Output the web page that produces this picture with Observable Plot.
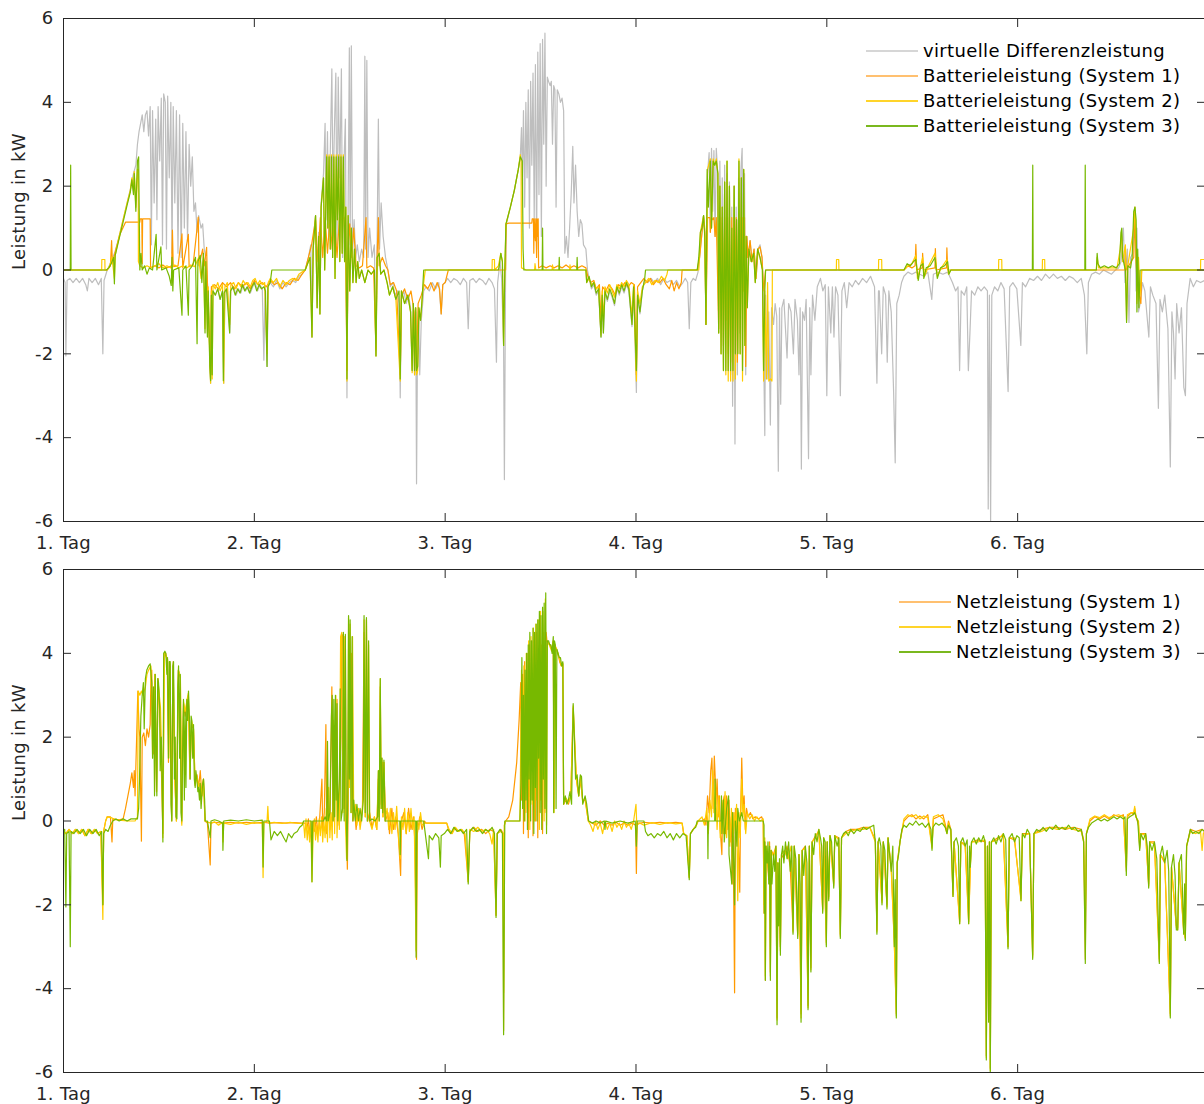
<!DOCTYPE html>
<html><head><meta charset="utf-8">
<script src="https://cdn.jsdelivr.net/npm/d3@7"></script>
<script src="https://cdn.jsdelivr.net/npm/@observablehq/plot@0.6"></script>
<style>
body{margin:0;background:#fff;font-family:"DejaVu Sans",Verdana,sans-serif;}
#wrap{position:relative;width:1204px;height:1104px;overflow:hidden;background:#fff;}
.panel{position:absolute;left:0;}
.panel text{letter-spacing:0.3px;}
.legend{position:absolute;font-size:18px;color:#000;letter-spacing:0.35px;}
.legend .row{display:flex;align-items:center;height:25px;white-space:nowrap;}
.legend .sw{display:inline-block;width:52px;height:0;border-top:2px solid;margin-right:5px;}
</style></head><body><div id="wrap"></div>
<script>
// time in hours since start of day 1, power in kW
const dayTicks = [0, 24, 48, 72, 96, 120];
const dayLabels = ["1. Tag", "2. Tag", "3. Tag", "4. Tag", "5. Tag", "6. Tag"];
const yTicks = [-6, -4, -2, 0, 2, 4, 6];
const yLabels = ["-6", "-4", "-2", "0", "2", "4", "6"];
const topNames = ["virtuelle Differenzleistung", "Batterieleistung (System 1)", "Batterieleistung (System 2)", "Batterieleistung (System 3)"];
const bottomNames = ["Netzleistung (System 1)", "Netzleistung (System 2)", "Netzleistung (System 3)"];
const colGray = "#bebebe", colOrange = "#ff9a00", colYellow = "#ffcc00", colGreen = "#77b900";

const diffPower = [
[0,-0.2],[0.2,-0.3],[0.3,-2.05],[0.45,-0.25],[0.8,-0.2],[1.2,-0.3],[1.6,-0.2],[2.0,-0.3],[2.4,-0.2],[2.8,-0.35],[3.0,-0.5],[3.2,-0.2],[3.6,-0.3],[4.0,-0.2],[4.4,-0.35],[4.75,-0.2],[4.95,-2.0],[5.1,-0.25],[5.5,0.0],[6.0,0.2],[6.5,0.45],[7.0,0.8],[7.5,1.2],[8.0,1.6],[8.5,2.0],[8.8,2.3],[9.1,2.5],[9.3,3.0],[9.5,3.3],[9.7,3.5],[9.9,3.7],[10.1,3.3],[10.3,3.7],[10.5,3.8],[10.7,3.2],[10.9,3.9],[11.05,0.6],[11.2,3.8],[11.4,1.6],[11.6,3.6],[11.75,1.2],[11.9,3.9],[12.1,2.6],[12.3,4.1],[12.45,0.6],[12.6,4.2],[12.8,4.0],[12.95,0.5],[13.1,4.15],[13.3,2.2],[13.5,4.0],[13.65,0.4],[13.8,3.9],[14.0,1.6],[14.2,3.8],[14.4,0.4],[14.6,3.7],[14.8,0.3],[15.0,3.5],[15.2,1.0],[15.4,3.3],[15.6,0.7],[15.8,3.0],[16.0,2.0],[16.2,2.7],[16.4,1.4],[16.6,1.6],[16.8,0.9],[17.0,1.3],[17.3,1.0],[17.5,1.1],[17.7,0.5],[17.9,0.3],[18.1,-0.3],[18.3,-1.2],[18.5,-2.7],[18.6,-0.6],[18.8,-0.5],[19.1,-0.6],[19.4,-0.45],[19.7,-0.7],[20.0,-0.5],[20.15,-2.7],[20.3,-0.5],[20.6,-0.45],[20.9,-1.5],[21.05,-0.5],[21.4,-0.4],[21.7,-0.6],[22.0,-0.45],[22.3,-0.55],[22.6,-0.35],[22.9,-0.5],[23.2,-0.4],[23.5,-0.55],[23.8,-0.4],[24.1,-0.3],[24.4,-0.5],[24.7,-0.35],[25.0,-0.45],[25.2,-2.15],[25.35,-0.4],[25.6,-2.3],[25.75,-0.4],[26.0,-0.3],[26.4,-0.4],[26.8,-0.25],[27.2,-0.45],[27.6,-0.3],[28.0,-0.4],[28.4,-0.3],[28.8,-0.25],[29.2,-0.3],[29.6,-0.15],[30.0,-0.1],[30.4,0.0],
[30.8,0.3],[31.1,0.6],[31.25,-1.6],[31.4,0.7],[31.7,1.3],[31.9,-0.9],[32.1,0.9],[32.25,-1.05],[32.4,1.6],[32.7,2.3],[32.9,3.5],[33.0,1.2],[33.2,3.3],[33.35,0.8],[33.55,2.8],[33.75,4.8],[33.9,1.6],[34.05,3.2],[34.25,4.7],[34.4,0.6],[34.55,4.6],[34.75,2.2],[34.95,4.8],[35.1,0.3],[35.3,2.7],[35.45,3.6],[35.65,-3.05],[35.8,1.6],[35.95,5.3],[36.05,0.6],[36.2,5.35],[36.35,0.4],[36.55,1.2],[36.75,0.3],[36.95,0.6],[37.2,0.2],[37.5,0.5],[37.75,0.3],[37.9,5.1],[38.0,0.5],[38.15,5.0],[38.3,0.3],[38.5,1.0],[38.8,0.3],[39.1,0.6],[39.3,-2.05],[39.45,0.8],[39.6,3.6],[39.75,0.5],[39.95,1.6],[40.2,0.8],[40.5,0.3],[40.8,0.0],[41.1,-0.4],[41.4,-0.3],[41.7,-0.6],[42.0,-0.5],[42.2,-0.8],[42.35,-3.05],[42.5,-0.7],[42.8,-0.5],[43.1,-0.8],[43.4,-0.6],[43.65,-0.9],[43.85,-2.4],[44.0,-0.8],[44.15,-2.5],[44.3,-1.0],[44.4,-5.1],[44.5,-2.4],[44.65,-0.9],[44.8,-2.5],[45.0,-1.2],[45.3,-0.5],[45.6,-0.4],[46.0,-0.5],[46.4,-0.3],[46.8,-0.45],[47.2,-0.3],[47.5,-1.05],[47.7,-0.35],[48.0,-0.3],[48.3,-0.2],[48.7,-0.3],[49.1,-0.2],[49.5,-0.25],[49.9,-0.35],[50.3,-0.2],[50.7,-0.3],[50.9,-1.4],[51.1,-0.25],[51.5,-0.2],[51.9,-0.3],[52.3,-0.2],[52.7,-0.25],[53.1,-0.35],[53.5,-0.2],[53.9,-0.3],[54.2,-0.45],[54.45,-2.2],[54.6,-0.3],[54.9,0.2],[55.1,-0.2],[55.35,-1.8],[55.45,-5.0],[55.6,0.0],
[55.7,1.1],[56.2,1.5],[56.7,1.9],[57.2,2.4],[57.45,2.7],[57.6,3.4],[57.7,2.0],[57.85,3.8],[58.0,1.5],[58.15,4.0],[58.3,2.2],[58.45,4.3],[58.6,1.0],[58.75,4.5],[58.9,2.5],[59.05,4.7],[59.2,1.2],[59.35,4.9],[59.5,0.5],[59.65,5.2],[59.8,1.8],[59.95,5.4],[60.1,0.8],[60.25,5.5],[60.4,3.0],[60.55,5.65],[60.7,2.0],[60.85,4.6],[61.0,4.5],[61.2,4.4],[61.35,4.5],[61.5,3.0],[61.65,4.4],[61.8,4.3],[61.95,1.5],[62.1,4.3],[62.3,4.2],[62.5,4.0],[62.7,4.1],[62.9,3.8],[63.05,0.4],[63.25,0.8],[63.45,0.3],[63.65,1.0],[63.85,1.8],[64.05,2.95],[64.2,1.6],[64.4,2.5],[64.6,1.4],[64.8,0.8],[65.0,1.2],[65.2,1.1],[65.4,0.6],[65.7,0.5],[65.9,0.0],
[66.1,-0.2],[66.4,-0.45],[66.7,-0.35],[67.0,-0.6],[67.3,-0.5],[67.6,-1.6],[67.75,-0.65],[67.9,-1.5],[68.1,-0.55],[68.4,-0.75],[68.7,-0.5],[69.0,-0.65],[69.3,-0.85],[69.6,-0.45],[69.9,-0.6],[70.2,-0.4],[70.5,-0.55],[70.8,-0.35],[71.1,-0.5],[71.5,-1.35],[71.7,-0.45],[72.05,-2.92],[72.2,-0.65],[72.5,-1.05],[72.8,-0.5],[73.1,-0.25],[73.5,-0.3],[73.9,-0.2],[74.3,-0.3],[74.7,-0.2],[75.1,-0.35],[75.5,-0.2],[75.9,-0.3],[76.3,-0.25],[76.7,-0.35],[77.1,-0.25],[77.5,-0.4],[77.9,-0.3],[78.2,-0.2],[78.5,-0.3],[78.7,-1.4],[78.9,-0.3],[79.2,-0.2],[79.5,-0.25],[79.8,-0.05],
[80.0,0.3],[80.2,0.7],[80.5,1.3],[80.65,0.9],[80.8,-1.3],[81.0,2.3],[81.2,2.8],[81.35,0.9],[81.5,2.9],[81.65,1.4],[81.8,2.85],[81.95,0.8],[82.1,2.9],[82.25,2.4],[82.4,-1.5],[82.55,2.6],[82.7,-0.5],[82.85,2.2],[83.0,-2.0],[83.15,2.5],[83.3,-1.2],[83.45,2.3],[83.6,-2.4],[83.75,2.1],[83.9,-2.5],[84.05,1.5],[84.15,-3.25],[84.3,2.0],[84.45,-4.15],[84.6,1.5],[84.75,-2.5],[84.9,2.2],[85.05,-1.5],[85.2,2.4],[85.35,2.9],[85.5,-0.5],[85.65,2.3],[85.8,-2.5],[85.95,0.8],[86.1,0.3],[86.35,0.7],[86.6,0.2],[86.85,0.5],[87.1,-0.2],[87.35,0.5],[87.6,0.6],[87.85,0.3],[88.0,-0.3],[88.1,-2.6],[88.2,-3.95],[88.3,-0.6],[88.5,-2.6],[88.7,-1.0],[88.9,-3.7],[89.05,-0.9],[89.3,-1.3],[89.5,-0.8],[89.7,-1.1],[89.9,-4.8],[90.05,-0.9],[90.2,-3.2],[90.35,-0.9],[90.6,-0.7],
[91.0,-2.1],[91.2,-0.8],[91.5,-1.0],[91.8,-2.0],[92.0,-0.7],[92.3,-1.2],[92.5,-2.5],[92.65,-0.9],[92.8,-4.75],[92.95,-1.0],[93.2,-1.2],[93.4,-0.7],[93.7,-4.5],[93.85,-0.9],[94.0,-2.5],[94.2,-0.6],[94.5,-1.2],[94.8,-0.4],[95.2,-0.2],[95.5,-0.5],[95.8,-0.35],[96.0,-3.0],[96.2,-0.4],[96.5,-1.5],[96.7,-0.4],[96.9,-1.6],[97.1,-0.4],[97.4,-0.6],[97.7,-3.0],[97.9,-0.5],[98.2,-0.3],[98.5,-0.9],[98.8,-0.3],[99.2,-0.4],[99.6,-0.25],[100.0,-0.35],[100.5,-0.2],[101.0,-0.3],[101.5,-0.15],[102.0,-0.4],[102.3,-2.7],[102.5,-0.5],
[102.6,-0.5],[102.9,-2.0],[103.1,-0.4],[103.4,-0.6],[103.6,-2.2],[103.8,-0.5],[104.1,-1.0],[104.4,-2.9],[104.6,-4.6],[104.8,-0.8],[105.1,-0.6],[105.4,-0.3],[105.7,-0.15],[106.2,-0.05],[106.7,-0.1],[107.2,-0.05],[107.7,-0.1],[108.2,-0.15],[108.7,-0.05],[109.2,-0.7],[109.4,-0.1],[110.0,-0.05],[110.6,-0.1],[111.2,-0.05],[111.8,-0.3],[112.2,-0.5],[112.5,-0.4],[112.7,-2.4],[112.9,-0.5],[113.3,-0.6],[113.6,-0.4],[113.8,-2.4],[114.0,-1.5],[114.2,-0.5],[114.6,-0.6],[115.0,-0.4],[115.4,-0.5],[115.8,-0.4],[116.2,-0.5],[116.3,-5.7],[116.45,-0.6],[116.6,-6.0],[116.75,-0.6],[117.1,-0.4],[117.5,-0.5],[117.9,-0.3],[118.3,-0.45],[118.8,-2.9],[119.0,-0.4],[119.4,-0.3],[119.9,-0.45],[120.4,-1.8],[120.6,-0.3],[121.0,-0.4],[121.5,-0.2],[122.0,-0.25],[122.5,-0.15],[123.0,-0.25],[123.5,-0.1],[124.0,-0.2],[124.5,-0.1],[125.0,-0.2],[125.5,-0.15],[126.0,-0.25],[126.5,-0.15],[127.0,-0.2],[127.5,-0.3],[128.0,-0.2],[128.4,-0.6],[128.7,-2.0],[128.9,-0.3],[129.3,-0.1],[129.8,-0.05],[130.3,-0.1],[130.8,0.0],[131.3,-0.05],[131.8,-0.1],[132.3,0.0],[132.7,0.05],[133.0,0.2],[133.3,1.0],[133.5,-0.3],[133.8,0.5],[134.0,-1.25],[134.2,0.3],[134.5,0.4],[134.75,1.5],[134.9,-0.5],[135.0,1.0],[135.2,-1.0],[135.4,-0.8],[135.7,-0.3],[136.0,-0.5],[136.5,-1.6],[136.7,-0.4],[137.0,-0.6],[137.4,-0.8],[137.7,-3.3],[137.9,-0.7],[138.2,-1.0],[138.5,-0.6],[138.9,-1.4],[139.2,-4.7],[139.4,-1.0],[139.6,-1.5],[139.8,-2.6],[140.0,-0.8],[140.3,-1.5],[140.6,-0.9],[140.9,-2.8],[141.1,-3.0],[141.3,-0.8],[141.7,-0.2],[142.1,-0.4],[142.5,-0.25],[143.0,-0.3],[143.5,-0.25]
];

const battery1 = [
[0,0],[5.5,0],[5.9,0.1],[6.05,0.7],[6.15,0.15],[6.6,0.5],[7.1,0.85],[7.8,1.14],[9.6,1.14],[9.65,1.22],[9.85,1.22],[9.9,0.15],[9.95,1.22],[10.9,1.22],[10.95,0.05],[11.5,0.1],[12.0,0.05],[12.5,0.12],[13.0,0.05],[13.6,0.1],[13.7,0.95],[13.8,0.08],[14.4,0.1],[14.9,0.86],[15.0,0.05],[15.7,0.85],[15.8,0.08],[16.3,0.12],[16.95,1.26],[17.05,0.1],[17.5,0.5],[17.7,0.1],[18.0,0.54],[18.1,-0.3],[18.5,-2.5],[18.6,-0.4],[19.0,-0.35],[19.5,-0.45],[20.0,-0.3],[20.5,-0.4],[21.0,-0.3],[21.5,-0.45],[22.0,-0.3],[22.5,-0.4],[23.0,-0.3],[23.5,-0.45],[24.0,-0.25],[24.5,-0.35],[25.0,-0.3],[25.5,-0.4],[26.0,-0.25],[26.5,-0.35],[27.0,-0.3],[27.5,-0.45],[28.0,-0.3],[28.5,-0.35],[29.0,-0.2],[29.5,-0.25],[30.0,-0.1],[30.4,0.0],
[30.8,0.3],[31.2,0.6],[31.7,1.2],[32.0,0.2],[32.3,1.25],[32.6,0.3],[32.9,1.25],[33.2,0.4],[33.5,1.25],[33.8,0.5],[34.1,1.25],[34.4,0.3],[34.7,1.25],[35.0,1.2],[35.3,1.25],[35.5,0.2],[35.65,-2.4],[35.8,0.5],[36.0,1.1],[36.2,0.3],[36.5,1.0],[36.8,0.1],[37.2,0.05],[37.6,0.1],[38.05,1.25],[38.15,0.05],[38.6,0.1],[39.0,0.05],[39.3,-1.9],[39.4,0.1],[39.6,1.25],[39.7,0.1],[40.1,0.3],[40.5,0.1],[40.8,0.0],[41.1,-0.35],[41.5,-0.3],[41.9,-0.5],[42.35,-2.5],[42.5,-0.6],[42.9,-0.45],[43.3,-0.7],[43.7,-0.5],[44.1,-1.0],[44.4,-2.4],[44.6,-0.8],[45.0,-0.6],[45.4,-0.35],[45.8,-0.45],[46.2,-0.3],[46.6,-0.5],[47.0,-0.3],[47.3,-0.45],[47.5,-1.05],[47.7,-0.35],[48.0,-0.3],[48.4,0.0],[55.6,0.0],
[55.65,1.1],[56.0,1.12],[58.9,1.12],[58.95,1.22],[59.1,1.22],[59.15,0.4],[59.2,1.22],[59.35,0.7],[59.4,1.22],[59.5,0.3],[59.55,1.22],[59.65,0.8],[59.7,1.22],[59.75,0.05],[60.2,0.1],[60.7,0.05],[61.2,0.1],[61.7,0.05],[62.2,0.1],[62.7,0.05],[63.2,0.12],[63.7,0.05],[64.2,0.1],[64.7,0.05],[65.2,0.1],[65.7,0.05],[66.0,-0.2],
[66.3,-0.3],[66.7,-0.25],[67.0,-0.45],[67.4,-0.35],[67.6,-1.2],[67.8,-0.4],[68.2,-0.5],[68.6,-0.35],[69.0,-0.45],[69.4,-0.6],[69.8,-0.35],[70.2,-0.4],[70.6,-0.3],[71.0,-0.4],[71.4,-0.3],[71.8,-0.35],[72.05,-2.5],[72.2,-0.4],[72.6,-0.3],[73.0,-0.2],[73.4,-0.3],[73.8,-0.2],[74.2,-0.35],[74.6,-0.25],[75.0,-0.3],[75.4,-0.2],[75.8,-0.35],[76.2,-0.45],[76.5,-0.25],[76.8,-0.5],[77.1,-0.3],[77.4,-0.45],[77.7,-0.3],[77.8,0.0],[79.7,0.0],
[80.0,0.3],[80.2,0.7],[80.5,1.25],[80.65,0.9],[80.8,-1.3],[81.0,1.25],[81.3,1.25],[81.35,0.9],[81.5,1.25],[81.65,1.2],[81.8,1.25],[81.95,0.8],[82.1,1.25],[82.4,-1.4],[82.55,1.25],[82.7,-0.5],[82.85,1.25],[83.0,-1.8],[83.15,1.25],[83.3,-1.2],[83.45,1.25],[83.6,-2.0],[83.75,1.25],[83.9,-2.2],[84.05,1.25],[84.15,-1.5],[84.3,1.25],[84.45,-0.2],[84.6,1.25],[84.75,-2.2],[84.9,1.25],[85.05,-0.2],[85.2,1.25],[85.35,1.25],[85.5,-0.5],[85.65,1.25],[85.8,-2.3],[85.95,0.8],[86.1,0.3],[86.35,0.7],[86.6,0.2],[86.85,0.5],[87.1,-0.2],[87.35,0.5],[87.6,0.55],[87.85,0.3],[88.0,-0.3],[88.1,-0.5],[88.2,-0.2],[88.3,0.0],
[105.7,0.0],[106.2,0.1],[106.7,0.05],[107.1,0.1],[107.2,0.61],[107.3,0.0],[108.0,0.05],[108.05,0.4],[108.15,0.0],[109.6,0.05],[109.65,0.51],[109.75,0.0],[111.05,0.05],[111.1,0.53],[111.2,0.0],[133.5,0.0],[133.55,0.55],[133.65,0.0],[134.6,0.3],[134.75,1.3],[134.9,0.2],[135.1,-0.4],[135.5,-0.8],[135.6,0.0],[143.5,0.0]
];

const battery2 = [
[0,0],[4.8,0],[4.82,0.25],[5.2,0.25],[5.22,0],[5.5,0.0],[5.8,0.1],[6.1,0.3],[6.4,-0.2],[6.5,0.35],[7.0,0.8],[7.5,1.2],[8.0,1.6],[8.4,1.9],[8.6,2.2],[8.8,1.9],[8.9,2.35],[9.1,1.5],[9.3,2.4],[9.4,2.4],[9.42,0.2],[9.6,0.1],[10.0,0.05],[10.5,0.1],[11.0,0.05],[11.5,0.1],[12.0,0.15],[12.5,0.05],[13.0,0.1],[13.5,0.05],[14.0,0.12],[14.5,0.05],[15.0,0.1],[15.5,0.05],[16.0,0.12],[16.5,0.08],[17.0,0.3],[17.3,-0.2],[17.6,0.3],[17.8,-1.4],[17.9,0.2],[18.1,-1.5],[18.2,-0.4],[18.4,-2.2],[18.5,-2.7],[18.6,-0.5],[18.7,-2.6],[18.8,-0.35],[19.1,-0.45],[19.4,-0.3],[19.7,-0.5],[20.0,-0.35],[20.15,-2.7],[20.3,-0.4],[20.6,-0.3],[20.9,-1.3],[21.05,-0.35],[21.4,-0.3],[21.7,-0.45],[22.0,-0.3],[22.3,-0.4],[22.6,-0.25],[22.9,-0.35],[23.2,-0.3],[23.5,-0.4],[23.8,-0.25],[24.1,-0.2],[24.4,-0.35],[24.7,-0.25],[25.0,-0.35],[25.3,-0.3],[25.6,-2.0],[25.75,-0.3],[26.0,-0.2],[26.4,-0.3],[26.8,-0.2],[27.2,-0.4],[27.6,-0.25],[28.0,-0.35],[28.4,-0.25],[28.8,-0.2],[29.2,-0.25],[29.6,-0.1],[30.0,-0.05],[30.4,0.0],
[31.0,0.3],[31.25,-1.6],[31.4,0.5],[31.7,1.3],[31.9,-0.9],[32.1,0.8],[32.25,-1.05],[32.4,1.5],[32.7,2.2],[32.85,0.0],[33.1,2.75],[33.25,1.0],[33.4,2.75],[33.55,0.5],[33.7,2.75],[33.85,0.3],[34.0,2.75],[34.15,-0.2],[34.3,2.75],[34.45,1.2],[34.6,2.75],[34.75,0.2],[34.9,2.75],[35.05,0.4],[35.2,2.75],[35.35,0.2],[35.5,1.5],[35.65,-2.65],[35.8,1.3],[36.0,-0.5],[36.2,1.0],[36.4,-0.3],[36.6,0.5],[36.8,-0.3],[37.0,0.2],[37.2,-0.2],[37.5,0.0],[37.9,-0.3],[38.3,0.0],[38.7,-0.1],[39.1,0.0],[39.3,-2.05],[39.45,0.3],[39.7,0.4],[39.9,-0.1],[40.3,0.0],[40.7,-0.3],
[41.0,-0.6],[41.4,-0.4],[41.8,-0.7],[42.35,-2.65],[42.5,-0.5],[42.9,-0.8],[43.3,-0.6],[43.65,-1.0],[43.85,-2.45],[44.0,-0.8],[44.15,-2.5],[44.3,-0.9],[44.4,-2.5],[44.55,-2.4],[44.7,-0.9],[44.9,-1.2],[45.1,-0.7],[45.3,-0.3],[45.5,0.0],[53.9,0.0],[53.92,0.25],[54.2,0.25],[54.22,0.0],[54.7,0.1],[55.0,0.4],[55.2,0.2],[55.35,-1.8],[55.5,0.0],
[55.65,1.1],[56.2,1.5],[56.7,1.9],[57.2,2.4],[57.45,2.75],[57.55,2.6],[57.6,0.05],[58.2,0.0],[59.25,0.0],[59.3,0.15],[59.4,0.0],[61.45,0.0],[61.5,0.12],[61.6,0.0],[63.65,0.0],[63.7,0.12],[63.8,0.0],[65.7,0.0],[65.8,-0.3],
[66.1,-0.2],[66.4,-0.35],[66.7,-0.3],[67.0,-0.45],[67.3,-0.4],[67.6,-1.55],[67.75,-0.5],[67.9,-1.2],[68.1,-0.4],[68.4,-0.55],[68.7,-0.35],[69.0,-0.5],[69.3,-0.65],[69.6,-0.35],[69.9,-0.45],[70.2,-0.3],[70.5,-0.4],[70.8,-0.25],[71.1,-0.35],[71.5,-1.1],[71.7,-0.35],[72.05,-2.65],[72.2,-0.5],[72.5,-0.8],[72.8,-0.4],[73.2,-0.3],[73.6,-0.2],[74.0,-0.35],[74.4,-0.25],[74.8,-0.3],[75.2,-0.15],[75.6,-0.25],[75.9,-0.1],[76.0,0.0],[79.7,0.0],
[79.9,0.0],[80.1,0.9],[80.5,1.3],[80.65,1.0],[80.8,-1.3],[81.0,2.4],[81.35,2.65],[81.5,1.0],[81.7,2.65],[81.9,2.5],[82.1,2.65],[82.3,2.3],[82.4,-1.5],[82.55,2.0],[82.7,-2.0],[82.85,1.5],[83.0,-2.4],[83.15,2.1],[83.3,-2.5],[83.45,2.6],[83.6,-2.65],[83.75,2.0],[83.9,-2.65],[84.05,1.0],[84.2,-2.65],[84.35,2.0],[84.5,-2.6],[84.65,1.2],[84.8,-2.0],[84.95,2.65],[85.1,-2.0],[85.25,2.2],[85.4,-2.65],[85.55,2.4],[85.7,-1.8],[85.85,0.8],[86.0,-0.9],[86.2,0.5],[86.5,0.2],[86.8,0.4],[87.0,-0.3],[87.3,0.5],[87.6,0.3],[87.9,0.0],[88.05,-2.65],[88.2,-0.5],[88.4,-2.6],[88.55,-0.3],[88.7,-2.65],[88.9,-2.6],[89.1,-2.65],[89.15,0.0],
[97.2,0.0],[97.22,0.25],[97.5,0.25],[97.52,0.0],[102.5,0.0],[102.52,0.25],[102.9,0.25],[102.92,0.0],[105.7,0.0],[106.2,0.1],[106.7,0.15],[107.2,0.35],[107.4,-0.2],[107.8,0.1],[108.05,0.3],[108.3,-0.15],[108.8,0.1],[109.6,0.4],[109.9,-0.15],[110.4,0.05],[111.1,0.25],[111.3,-0.1],[111.6,0.0],[117.6,0.0],[117.62,0.25],[118.0,0.25],[118.02,0.0],[123.1,0.0],[123.12,0.25],[123.4,0.25],[123.42,0.0],[129.9,0.0],[130.0,0.3],[130.2,0.05],[132.5,0.05],[132.9,0.5],[133.05,0.9],[133.2,0.2],[133.55,0.6],[133.7,-1.2],[133.85,0.1],[134.6,1.0],[134.75,1.5],[134.9,0.8],[135.0,-0.8],[135.2,0.3],[135.4,-0.6],[135.6,0.0],[143.0,0.0],[143.02,0.25],[143.5,0.25]
];

const battery3 = [
[0,0],[0.85,0],[0.9,2.5],[0.95,0],[5.4,0],[5.7,0.05],[6.0,0.15],[6.3,0.3],[6.4,-0.33],[6.5,0.35],[7.0,0.75],[7.5,1.15],[8.0,1.55],[8.4,1.85],[8.6,2.15],[8.8,1.8],[8.9,2.3],[9.1,1.4],[9.3,2.6],[9.45,2.7],[9.6,0.0],[9.75,0.4],[9.9,0.0],[10.2,0.1],[10.5,-0.1],[10.8,0.05],[11.2,0.0],[11.65,0.85],[11.75,0.0],[12.25,0.55],[12.35,0.0],[12.9,0.05],[13.3,-0.15],[13.55,-0.37],[13.65,0.3],[13.75,-0.5],[13.85,0.0],[14.5,0.05],[14.9,-1.08],[15.0,0.0],[15.4,0.1],[15.7,-1.08],[15.8,0.0],[16.2,0.1],[16.6,0.3],[16.8,-1.76],[16.9,0.2],[17.2,0.35],[17.4,-0.3],[17.6,0.4],[17.8,-1.5],[17.9,0.2],[18.1,-1.6],[18.2,-0.5],[18.4,-2.3],[18.5,-2.64],[18.6,-0.6],[18.7,-2.5],[18.8,-0.5],[19.1,-0.6],[19.4,-0.45],[19.7,-0.7],[20.0,-0.5],[20.1,-2.64],[20.2,-0.55],[20.5,-0.45],[20.9,-1.5],[21.0,-0.5],[21.3,-0.4],[21.6,-0.6],[21.9,-0.45],[22.2,-0.55],[22.5,-0.35],[22.8,-0.5],[23.1,-0.4],[23.4,-0.55],[23.7,-0.4],[24.0,-0.3],[24.3,-0.5],[24.6,-0.35],[24.9,-0.45],[25.2,-0.4],[25.4,-0.5],[25.6,-2.3],[25.7,-0.4],[26.0,-0.3],[26.2,0.0],[30.4,0.0],
[30.8,0.2],[31.0,0.3],[31.25,-1.6],[31.4,0.5],[31.7,1.3],[31.9,-0.9],[32.1,0.8],[32.25,-1.05],[32.4,1.5],[32.7,2.2],[32.85,0.0],[33.1,2.7],[33.25,1.0],[33.4,2.7],[33.55,0.5],[33.7,2.7],[33.85,0.3],[34.0,2.7],[34.15,-0.2],[34.3,2.7],[34.45,1.2],[34.6,2.7],[34.75,0.2],[34.9,2.7],[35.05,0.4],[35.2,2.7],[35.35,0.2],[35.5,1.5],[35.65,-2.6],[35.8,1.3],[36.0,-0.5],[36.2,1.0],[36.4,-0.3],[36.6,0.5],[36.8,-0.3],[37.0,0.2],[37.2,-0.2],[37.5,0.0],[37.9,-0.3],[38.3,0.0],[38.7,-0.1],[39.1,0.0],[39.3,-2.05],[39.45,0.3],[39.7,0.4],[39.9,-0.1],[40.3,0.0],[40.7,-0.3],[41.0,-0.6],[41.4,-0.4],[41.8,-0.7],[42.2,-0.5],[42.35,-2.6],[42.5,-0.5],[42.9,-0.8],[43.3,-0.6],[43.65,-1.0],[43.85,-2.4],[44.0,-0.8],[44.15,-2.4],[44.3,-0.9],[44.4,-2.4],[44.55,-2.3],[44.7,-0.9],[44.9,-1.2],[45.1,-0.7],[45.3,0.0],[54.7,0.0],[54.8,0.1],[55.0,0.4],[55.2,0.2],[55.35,-1.8],[55.5,0.0],
[55.65,1.1],[56.2,1.5],[56.7,1.9],[57.2,2.4],[57.45,2.7],[57.7,2.6],[57.8,0.5],[57.9,0.0],[60.2,0.0],[60.25,1.0],[60.3,0.0],[62.3,0.0],[62.35,0.3],[62.4,0.0],[64.55,0.0],[64.6,0.3],[64.65,0.0],[65.7,0.0],[65.8,-0.3],
[66.1,-0.15],[66.4,-0.4],[66.7,-0.3],[67.0,-0.55],[67.3,-0.45],[67.6,-1.6],[67.75,-0.6],[67.9,-1.5],[68.1,-0.5],[68.4,-0.7],[68.7,-0.45],[69.0,-0.6],[69.3,-0.8],[69.6,-0.4],[69.9,-0.55],[70.2,-0.35],[70.5,-0.5],[70.8,-0.3],[71.1,-0.45],[71.5,-1.3],[71.7,-0.4],[72.05,-2.4],[72.2,-0.6],[72.5,-1.0],[72.8,-0.5],[73.1,-0.2],[73.2,0.0],[79.7,0.0],
[79.9,0.3],[80.1,0.9],[80.3,1.0],[80.5,1.3],[80.65,0.8],[80.8,-1.3],[80.95,2.4],[81.1,1.5],[81.35,2.6],[81.5,1.0],[81.7,2.6],[81.9,2.5],[82.1,2.6],[82.3,2.3],[82.4,-1.5],[82.55,2.0],[82.7,-2.0],[82.85,1.5],[83.0,-2.4],[83.15,2.1],[83.3,-2.4],[83.45,2.6],[83.6,-2.4],[83.75,2.0],[83.9,-2.4],[84.05,1.0],[84.2,-2.4],[84.35,2.0],[84.5,-2.0],[84.65,1.2],[84.8,-2.0],[84.95,2.6],[85.1,-2.0],[85.25,2.2],[85.4,-2.4],[85.55,2.4],[85.7,-1.8],[85.85,0.8],[86.0,-0.9],[86.2,0.5],[86.5,0.2],[86.8,0.4],[87.0,-0.3],[87.3,0.5],[87.6,0.3],[87.9,0.0],[88.05,-2.4],[88.2,-0.5],[88.3,0.0],
[105.7,0.0],[106.1,0.15],[106.5,0.1],[106.9,0.2],[107.2,0.25],[107.5,-0.25],[107.8,0.1],[108.1,0.15],[108.2,-0.2],[108.5,0.05],[109.0,0.1],[109.6,0.3],[109.9,-0.2],[110.3,0.05],[110.8,0.1],[111.2,0.2],[111.35,-0.1],[111.6,0.0],[121.85,0.0],[121.9,2.5],[121.95,0.0],[128.45,0.0],[128.5,2.5],[128.55,0.0],[129.9,0.0],[130.0,0.4],[130.1,0.15],[130.4,0.05],[130.9,0.1],[131.4,0.05],[131.9,0.1],[132.4,0.05],[132.8,0.15],[133.0,0.9],[133.1,1.0],[133.2,0.3],[133.55,0.0],[133.7,-1.25],[133.85,0.1],[134.2,0.05],[134.4,0.3],[134.6,1.4],[134.75,1.5],[134.9,1.2],[135.0,-1.0],[135.1,0.5],[135.25,-0.9],[135.4,0.0],[143.5,0.0]
];

const grid1 = [
[0,-0.25],[0.3,-0.3],[0.7,-0.2],[1.1,-0.3],[1.5,-0.2],[1.9,-0.3],[2.3,-0.2],[2.7,-0.35],[3.1,-0.2],[3.5,-0.3],[3.9,-0.2],[4.3,-0.3],[4.7,-0.25],[4.95,-2.0],[5.05,-0.25],[5.3,0.0],[5.5,0.1],[5.9,0.1],[6.1,-0.5],[6.2,0.05],[7.0,0.03],[7.5,0.05],[7.8,0.3],[8.1,0.6],[8.4,0.9],[8.6,1.15],[8.8,0.8],[8.9,1.2],[9.0,0.6],[9.2,2.0],[9.35,3.1],[9.5,2.2],[9.6,2.0],[9.8,-0.48],[9.9,2.0],[10.1,2.1],[10.3,1.8],[10.5,2.2],[10.7,2.0],[10.9,2.3],[11.0,3.5],
[11.1,3.6],[11.3,1.6],[11.5,3.5],[11.7,0.7],[11.9,3.4],[12.1,2.6],[12.3,1.3],[12.5,-0.3],[12.65,3.9],[12.85,4.0],[13.05,3.8],[13.2,1.4],[13.4,3.7],[13.6,0.0],[13.8,3.8],[14.0,1.0],[14.2,0.0],[14.45,3.6],[14.7,3.4],[14.85,-0.05],[15.1,2.8],[15.3,2.5],[15.5,2.8],[15.7,3.0],[15.9,1.0],[16.1,2.3],[16.35,2.2],[16.55,0.9],[16.8,1.1],[17.0,0.8],[17.2,1.2],[17.4,0.6],[17.6,1.0],[17.8,0.0],[18.1,-0.05],[18.45,-1.05],[18.55,-0.05],[19.0,-0.03],[20.0,-0.05],[21.0,-0.03],[22.0,-0.05],[23.0,-0.03],[24.0,-0.05],[25.0,-0.03],[26.0,-0.05],[27.0,-0.04],[28.0,-0.05],[29.0,-0.04],[30.0,-0.05],[30.4,-0.05],
[30.6,-0.2],[30.8,0.05],[31.0,-0.3],[31.25,-0.4],[31.4,0.0],[31.6,-0.25],[31.8,0.1],[32.0,-0.3],[32.2,0.0],[32.5,1.0],[32.6,-0.2],[32.8,0.2],[33.0,2.3],[33.1,-0.3],[33.3,0.5],[33.5,-0.2],[33.75,3.2],[33.9,0.0],[34.1,1.0],[34.4,2.9],[34.5,-0.1],[34.7,0.6],[34.9,2.0],[35.0,4.4],[35.15,4.45],[35.3,0.3],[35.45,4.4],[35.55,0.2],[35.7,-1.15],[35.8,0.3],[35.9,4.5],[36.05,1.0],[36.2,4.0],[36.4,0.0],[36.6,0.3],[36.8,-0.2],[37.0,0.2],[37.3,-0.1],[37.6,0.3],[37.8,4.5],[37.95,0.1],[38.1,4.8],[38.25,0.0],[38.5,0.2],[38.8,-0.15],[39.1,0.1],[39.4,-0.2],[39.6,1.0],[39.7,0.1],[39.84,3.2],[39.95,0.4],[40.1,1.4],[40.2,0.1],[40.3,1.4],[40.5,0.0],[40.8,0.2],[41.0,-0.3],[41.3,0.3],[41.5,-0.2],[41.8,0.1],[42.1,-0.3],[42.4,-1.3],[42.5,0.0],[42.8,0.2],[43.1,-0.3],[43.4,0.3],[43.7,-0.2],[44.0,0.1],[44.2,-0.5],[44.4,-3.3],[44.5,-0.3],[44.8,0.1],[45.1,-0.2],[45.4,0.0],[45.6,-0.05],[48.2,-0.05],
[48.4,-0.2],[48.8,-0.3],[49.2,-0.15],[49.6,-0.25],[50.0,-0.2],[50.4,-0.3],[50.9,-1.45],[51.1,-0.25],[51.6,-0.15],[52.1,-0.25],[52.6,-0.2],[53.1,-0.3],[53.6,-0.2],[54.1,-0.25],[54.4,-2.25],[54.55,-0.3],[55.0,-0.2],[55.3,-0.3],[55.35,-5.0],[55.45,-0.1],[55.6,0.0],[56.0,0.1],[56.5,0.5],[57.0,1.4],[57.3,2.4],[57.5,3.3],[57.6,0.5],
[57.75,3.5],[57.85,-0.3],[58.0,3.8],[58.15,0.2],[58.3,4.0],[58.45,-0.4],[58.6,4.2],[58.75,0.5],[58.9,4.3],[59.05,-0.35],[59.2,4.4],[59.35,0.0],[59.5,4.5],[59.65,-0.4],[59.8,3.5],[59.95,0.5],[60.1,4.2],[60.25,-0.3],[60.4,4.5],[60.55,0.2],[60.7,4.5],[60.8,4.3],[61.0,4.25],[61.2,4.2],[61.4,4.1],[61.6,4.3],[61.7,0.3],[61.8,4.2],[62.0,4.1],[62.2,4.0],[62.4,3.8],[62.6,3.7],[62.8,3.75],[62.9,0.4],[63.2,0.5],[63.5,0.4],[63.8,0.6],[64.1,2.7],[64.3,1.8],[64.5,1.0],[64.8,0.6],[65.0,1.0],[65.3,0.5],[65.6,0.5],[66.0,0.0],
[66.5,-0.05],[67.0,-0.1],[67.5,0.0],[68.0,-0.1],[68.5,-0.05],[69.0,-0.1],[69.5,-0.03],[70.0,-0.1],[70.5,-0.05],[71.0,-0.1],[71.5,-0.05],[71.95,-0.1],[72.05,-1.25],[72.15,-0.05],[72.6,-0.05],[73.0,-0.03],[74.0,-0.05],[75.0,-0.03],[76.0,-0.05],[77.0,-0.03],[77.8,-0.05],[78.0,-0.3],[78.4,-0.35],[78.7,-1.35],[78.85,-0.3],[79.2,-0.2],[79.6,-0.1],[79.8,0.0],
[80.3,0.0],[80.6,0.05],[80.8,-0.1],[81.0,0.6],[81.2,0.2],[81.4,1.2],[81.55,1.5],[81.7,0.3],[81.85,1.55],[81.95,1.1],[82.05,0.4],[82.2,1.0],[82.35,0.1],[82.5,0.6],[82.6,-0.2],[82.8,-0.8],[82.9,0.4],[83.1,0.6],[83.25,-0.3],[83.4,0.6],[83.55,-0.2],[83.7,0.5],[83.85,-0.5],[84.0,0.1],[84.1,-1.5],[84.2,0.2],[84.4,-4.1],[84.5,0.3],[84.7,0.2],[84.85,-0.2],[85.05,-1.7],[85.15,0.1],[85.3,1.5],[85.45,0.3],[85.6,0.6],[85.75,-0.2],[85.9,0.3],[86.1,0.1],[86.4,0.2],[86.7,0.05],[87.0,0.1],[87.4,0.05],[87.8,0.1],[88.0,0.0],[88.1,-2.2],[88.2,-0.5],[88.27,-3.8],[88.35,-0.6],[88.5,-0.9],[88.7,-1.4],[88.8,-0.5],[88.9,-3.6],[89.0,-0.7],[89.3,-0.8],[89.6,-0.6],[89.74,-4.7],[89.85,-1.0],[90.16,-3.0],[90.3,-0.8],
[90.6,-0.9],[91.0,-0.6],[91.4,-1.1],[91.75,-2.6],[91.9,-0.6],[92.34,-2.7],[92.5,-0.8],[92.76,-4.6],[92.9,-0.7],[93.3,-0.6],[93.64,-4.4],[93.8,-0.6],[94.0,-3.5],[94.15,-0.5],[94.6,-0.35],[95.0,-0.25],[95.48,-2.1],[95.6,-0.4],[95.94,-2.9],[96.05,-0.5],[96.24,-1.8],[96.4,-0.35],[96.87,-1.5],[97.0,-0.35],[97.5,-0.4],[97.7,-2.7],[97.85,-0.4],[98.4,-0.25],[99.0,-0.2],[99.8,-0.2],[100.6,-0.15],[101.4,-0.15],[102.1,-0.45],[102.3,-2.6],[102.45,-0.5],[102.94,-1.9],[103.1,-0.5],[103.57,-2.0],[103.7,-0.4],[104.1,-1.1],[104.49,-2.9],[104.74,-4.6],[104.85,-1.0],[105.2,-0.5],[105.7,0.0],[106.2,0.1],[106.7,0.15],[107.2,0.05],[107.7,0.12],[108.2,0.05],[108.7,0.15],[109.23,-0.6],[109.4,0.05],[110.0,0.1],[110.6,0.15],[111.11,-0.25],[111.3,0.0],[111.6,-0.2],[111.87,-1.75],[112.0,-0.5],[112.71,-2.4],[112.85,-0.5],[113.4,-0.55],[113.84,-2.4],[114.05,-1.05],[114.2,-0.5],[115.0,-0.45],[115.9,-0.5],[116.06,-5.6],[116.2,-0.6],[116.35,-4.7],[116.45,-0.5],[116.56,-5.9],[116.7,-0.5],[117.5,-0.4],[118.2,-0.35],[118.79,-3.0],[118.95,-0.4],[119.6,-0.45],[120.42,-1.85],[120.6,-0.3],[121.5,-0.3],[121.89,-3.2],[122.05,-0.3],[123.0,-0.2],[124.0,-0.15],[125.0,-0.15],[126.0,-0.2],[127.0,-0.15],[128.0,-0.2],[128.3,-0.45],[128.51,-3.3],[128.65,-0.3],[129.1,0.0],[129.7,0.1],[130.3,0.05],[130.9,0.12],[131.5,0.05],[132.1,0.15],[132.7,0.1],[133.3,0.15],[133.67,-1.2],[133.8,0.1],[134.3,0.2],[134.6,0.15],[134.72,0.3],[134.9,0.1],[135.2,-0.1],[135.35,-0.65],[135.5,-0.3],[136.1,-0.3],[136.48,-1.55],[136.6,-0.5],[137.2,-0.5],[137.82,-3.3],[137.95,-0.8],[138.5,-1.0],[139.2,-4.6],[139.35,-1.1],[139.96,-2.5],[140.13,-2.55],[140.3,-1.0],[140.88,-2.6],[141.09,-2.8],[141.25,-0.6],[141.72,-0.2],[142.4,-0.25],[143.2,-0.2],[143.5,-0.25]
];

const grid2 = [
[0,-0.25],[0.3,-0.3],[0.7,-0.2],[1.1,-0.3],[1.5,-0.2],[1.9,-0.3],[2.3,-0.2],[2.7,-0.35],[3.1,-0.2],[3.5,-0.3],[3.9,-0.2],[4.3,-0.3],[4.7,-0.25],[4.95,-2.35],[5.05,-0.25],[5.3,0.0],[5.5,0.1],[6.0,0.08],[6.5,0.03],[7.0,0.02],[8.0,0.0],[9.0,0.0],[9.3,0.1],[9.4,3.1],[9.6,3.0],[9.8,3.1],[10.0,3.0],[10.3,3.2],[10.5,3.5],[10.7,3.6],
[11.0,3.7],[11.2,1.6],[11.5,3.5],[11.7,0.7],[11.9,3.3],[12.2,2.7],[12.4,1.2],[12.5,-0.4],[12.7,4.0],[12.9,3.95],[13.1,3.85],[13.25,1.5],[13.4,3.75],[13.6,0.05],[13.8,3.7],[14.0,1.0],[14.2,0.0],[14.45,3.6],[14.7,3.45],[14.88,-0.1],[15.1,2.85],[15.3,2.6],[15.5,2.85],[15.7,3.05],[15.9,1.1],[16.1,2.4],[16.35,2.2],[16.55,0.85],[16.8,1.05],[17.0,0.8],[17.2,0.9],[17.4,0.6],[17.6,1.0],[17.8,0.0],[18.5,-0.05],[19.0,-0.02],[19.5,-0.1],[20.0,-0.03],[20.05,-0.5],[20.15,-0.05],[21.0,-0.08],[22.0,-0.03],[23.0,-0.08],[24.0,-0.04],[25.0,-0.06],[25.1,-1.35],[25.2,-0.05],[25.6,0.0],[25.7,0.35],[25.8,-0.05],[26.5,-0.03],[27.5,-0.06],[28.5,-0.03],[29.5,-0.06],[30.2,-0.05],
[30.35,-0.4],[30.5,0.05],[30.65,-0.45],[30.8,-0.1],[30.95,-0.5],[31.1,0.0],[31.25,-1.45],[31.4,-0.3],[31.55,0.05],[31.7,-0.45],[31.85,-0.1],[32.0,-0.5],[32.15,0.05],[32.3,-0.35],[32.45,0.1],[32.6,-0.5],[32.75,0.0],[32.9,-0.4],[33.05,0.3],[33.2,-0.5],[33.35,0.8],[33.5,-0.4],[33.65,0.2],[33.8,-0.45],[33.95,2.4],[34.1,-0.3],[34.25,3.0],[34.4,-0.4],[34.55,0.6],[34.7,-0.2],[34.85,4.4],[35.0,4.5],[35.15,0.2],[35.3,4.4],[35.45,0.0],[35.6,-0.9],[35.75,0.3],[35.85,4.85],[35.95,0.8],[36.05,4.7],[36.2,0.2],[36.35,4.4],[36.5,0.1],[36.7,0.4],[36.9,-0.1],[37.1,0.3],[37.3,-0.2],[37.5,0.1],[37.7,0.6],[37.8,4.8],[37.95,0.1],[38.1,4.8],[38.25,0.0],[38.37,4.2],[38.5,0.0],[38.8,-0.2],[39.1,0.1],[39.4,-0.2],[39.6,1.2],[39.7,0.0],[39.84,3.4],[39.95,0.3],[40.05,1.5],[40.15,0.1],[40.3,1.4],[40.45,0.0],[40.7,0.3],[40.9,-0.2],[41.1,0.3],[41.3,-0.3],[41.5,0.2],[41.7,-0.2],[41.9,0.35],[42.1,-0.3],[42.35,-0.9],[42.5,0.1],[42.7,-0.2],[42.9,0.3],[43.1,-0.3],[43.3,0.2],[43.5,-0.25],[43.7,0.3],[43.9,-0.2],[44.1,0.1],[44.35,-3.1],[44.45,0.0],[44.7,-0.2],[44.9,0.2],[45.1,-0.1],[45.5,-0.05],[48.2,-0.05],
[48.5,-0.2],[48.9,-0.3],[49.3,-0.15],[49.7,-0.25],[50.1,-0.2],[50.5,-0.3],[50.9,-1.45],[51.1,-0.2],[51.6,-0.25],[52.1,-0.15],[52.6,-0.25],[53.1,-0.2],[53.6,-0.3],[53.9,-0.55],[54.1,-0.2],[54.4,-2.25],[54.55,-0.3],[55.0,-0.25],[55.3,-0.3],[55.35,-4.1],[55.45,-0.1],[55.6,0.0],[57.4,0.0],
[57.6,3.6],[57.75,0.3],[57.9,3.7],[58.05,0.0],[58.2,4.0],[58.35,0.3],[58.5,4.3],[58.65,-0.2],[58.8,4.4],[58.95,0.4],[59.1,4.6],[59.25,0.0],[59.4,4.7],[59.55,0.5],[59.7,4.8],[59.85,-0.2],[60.0,5.0],[60.15,0.5],[60.3,5.0],[60.45,0.0],[60.6,5.3],[60.75,-0.1],[60.85,4.2],[61.0,4.25],[61.2,4.15],[61.4,4.05],[61.6,4.3],[61.7,0.2],[61.8,4.2],[62.0,4.1],[62.2,3.95],[62.4,3.85],[62.6,3.7],[62.8,3.75],[62.9,0.4],[63.2,0.55],[63.5,0.45],[63.8,0.6],[64.1,2.75],[64.3,1.9],[64.5,1.0],[64.8,0.6],[65.0,1.05],[65.3,0.45],[65.6,0.55],[66.0,0.0],
[66.3,-0.1],[66.6,-0.25],[66.9,0.0],[67.2,-0.2],[67.5,-0.05],[67.8,-0.3],[68.1,0.0],[68.4,-0.2],[68.7,-0.05],[69.0,-0.25],[69.3,0.0],[69.6,-0.15],[69.9,-0.05],[70.2,-0.2],[70.5,0.0],[70.8,-0.15],[71.1,-0.05],[71.4,-0.2],[71.7,0.0],[72.0,0.4],[72.1,-0.1],[72.5,-0.05],[73.0,-0.1],[74.0,-0.04],[75.0,-0.08],[76.0,-0.04],[77.0,-0.07],[77.8,-0.05],[78.0,-0.3],[78.4,-0.35],[78.7,-1.35],[78.85,-0.3],[79.2,-0.2],[79.6,-0.1],[79.8,0.0],
[80.3,0.1],[80.6,-0.1],[80.9,0.3],[81.1,-0.3],[81.3,0.5],[81.5,0.1],[81.65,1.2],[81.8,0.2],[82.0,0.9],[82.2,-0.2],[82.4,0.6],[82.6,-0.4],[82.8,0.5],[83.0,-0.3],[83.2,0.7],[83.4,-0.4],[83.6,0.4],[83.8,-0.6],[84.0,0.3],[84.2,-0.5],[84.35,0.2],[84.5,-0.3],[84.65,0.4],[84.8,-1.9],[84.95,0.2],[85.1,-0.4],[85.3,1.0],[85.45,0.1],[85.6,0.4],[85.8,-0.3],[86.0,0.2],[86.3,0.05],[86.6,0.15],[86.9,0.0],[87.2,0.1],[87.6,0.0],[88.0,0.05],[88.1,-2.0],[88.2,-0.4],[88.27,-3.7],[88.35,-0.6],[88.5,-0.8],[88.7,-1.3],[88.8,-0.6],[88.9,-3.7],[89.0,-0.7],[89.3,-0.85],[89.6,-0.65],[89.74,-4.75],[89.85,-1.0],[90.16,-3.1],[90.3,-0.8],
[90.7,-0.7],[91.1,-0.9],[91.5,-0.6],[91.75,-2.65],[91.9,-0.6],[92.34,-2.75],[92.5,-0.8],[92.76,-4.7],[92.9,-0.7],[93.3,-0.65],[93.64,-4.45],[93.8,-0.6],[94.0,-3.55],[94.15,-0.5],[94.6,-0.4],[95.0,-0.2],[95.48,-2.15],[95.6,-0.4],[95.94,-2.95],[96.05,-0.5],[96.24,-1.85],[96.4,-0.35],[96.87,-1.55],[97.0,-0.35],[97.5,-0.45],[97.7,-2.75],[97.85,-0.4],[98.4,-0.3],[99.0,-0.25],[99.8,-0.2],[100.6,-0.2],[101.4,-0.15],[102.1,-0.5],[102.3,-2.65],[102.45,-0.5],[102.94,-1.95],[103.1,-0.5],[103.57,-2.05],[103.7,-0.4],[104.1,-1.15],[104.49,-2.95],[104.74,-4.65],[104.85,-1.0],[105.2,-0.5],[105.7,0.05],[106.2,0.15],[106.7,0.1],[107.2,0.15],[107.7,0.05],[108.2,0.12],[108.7,0.08],[109.23,-0.65],[109.4,0.1],[110.0,0.15],[110.6,0.05],[111.11,-0.3],[111.3,-0.05],[111.6,-0.25],[111.87,-1.8],[112.0,-0.5],[112.71,-2.45],[112.85,-0.5],[113.4,-0.6],[113.84,-2.45],[114.05,-1.1],[114.2,-0.5],[115.0,-0.5],[115.9,-0.45],[116.06,-5.65],[116.2,-0.6],[116.35,-4.75],[116.45,-0.5],[116.56,-5.95],[116.7,-0.5],[117.5,-0.45],[118.2,-0.3],[118.79,-3.0],[118.95,-0.4],[119.6,-0.4],[120.42,-1.9],[120.6,-0.35],[121.5,-0.3],[121.89,-3.25],[122.05,-0.3],[123.0,-0.25],[124.0,-0.15],[125.0,-0.2],[126.0,-0.15],[127.0,-0.2],[128.0,-0.25],[128.3,-0.5],[128.51,-2.4],[128.65,-0.3],[129.1,0.05],[129.7,0.12],[130.3,0.08],[130.9,0.15],[131.5,0.08],[132.1,0.12],[132.7,0.15],[133.3,0.1],[133.67,-1.1],[133.8,0.15],[134.3,0.2],[134.6,0.2],[134.72,0.35],[134.85,0.1],[135.2,0.0],[135.35,-0.6],[135.5,-0.3],[136.1,-0.35],[136.48,-1.5],[136.6,-0.5],[137.2,-0.55],[137.82,-3.35],[137.95,-0.8],[138.5,-0.95],[139.2,-4.65],[139.35,-1.1],[139.96,-2.55],[140.13,-2.6],[140.3,-1.0],[140.88,-2.65],[141.09,-2.8],[141.25,-0.6],[141.72,-0.25],[142.4,-0.3],[143.0,-0.25],[143.2,-0.7],[143.35,-0.3],[143.5,-0.25]
];

const grid3 = [
[0,-0.25],[0.15,-0.2],[0.3,-2.05],[0.4,-0.3],[0.7,-0.25],[0.85,-3.0],[0.95,-0.25],[1.3,-0.3],[1.7,-0.2],[2.1,-0.3],[2.5,-0.2],[2.9,-0.35],[3.3,-0.2],[3.7,-0.3],[4.1,-0.2],[4.5,-0.35],[4.8,-0.25],[4.95,-2.0],[5.05,-0.3],[5.3,-0.2],[5.6,-0.25],[5.9,-0.1],[6.2,0.0],[6.6,0.05],[7.0,0.0],[7.5,0.05],[8.0,0.0],[8.5,0.05],[9.0,0.05],
[9.3,0.05],[9.45,0.3],[9.56,1.0],[9.73,2.5],[9.9,3.0],[10.05,3.3],[10.15,2.2],[10.3,3.4],[10.48,3.6],[10.7,3.7],[10.9,3.75],[11.1,3.3],[11.2,1.5],[11.32,3.2],[11.45,0.6],[11.53,3.5],[11.65,1.5],[11.74,0.6],[11.85,3.4],[11.95,3.3],[12.1,2.7],[12.16,1.2],[12.3,2.0],[12.37,1.2],[12.5,-0.5],[12.6,4.0],[12.75,4.05],[12.87,4.0],[13.0,3.5],[13.08,3.9],[13.2,1.5],[13.3,3.8],[13.42,3.8],[13.52,0.4],[13.63,0.0],[13.75,3.7],[13.84,3.8],[13.95,1.0],[14.05,2.0],[14.15,0.1],[14.26,0.05],[14.37,3.2],[14.47,3.7],[14.6,1.5],[14.68,3.5],[14.78,0.2],[14.88,0.0],[15.0,2.0],[15.09,2.9],[15.2,0.5],[15.3,2.6],[15.4,0.8],[15.51,2.9],[15.62,2.4],[15.72,3.1],[15.83,2.5],[15.93,1.0],[16.05,2.5],[16.14,2.4],[16.25,1.5],[16.35,2.3],[16.45,1.0],[16.56,0.8],[16.65,1.2],[16.77,1.0],[16.9,0.7],[16.98,0.8],[17.1,0.5],[17.19,0.9],[17.3,0.3],[17.4,0.6],[17.5,0.9],[17.61,1.0],[17.75,0.5],[17.82,0.0],
[18.1,0.0],[18.45,-0.4],[18.55,0.0],[19.0,0.03],[19.5,0.0],[20.0,-0.05],[20.05,-0.7],[20.15,0.0],[21.0,0.02],[22.0,0.0],[23.0,0.03],[24.0,0.0],[25.0,0.02],[25.1,-1.1],[25.2,0.0],[25.9,0.0],[26.1,-0.45],[26.5,-0.25],[26.9,-0.35],[27.3,-0.25],[27.7,-0.4],[28.0,-0.5],[28.3,-0.3],[28.7,-0.4],[29.0,-0.3],[29.4,-0.25],[29.7,-0.15],[30.0,-0.1],[30.2,0.0],[31.15,0.0],[31.25,-1.45],[31.35,0.0],[32.7,0.0],[32.9,0.1],[33.1,0.0],[33.2,1.9],[33.3,0.0],[33.5,0.2],[33.7,2.5],[33.8,3.0],[33.9,0.0],[34.0,2.9],[34.1,0.1],[34.2,3.0],[34.3,0.5],[34.4,2.8],[34.5,0.0],[34.7,1.0],[34.8,3.15],[34.9,0.0],[35.1,0.3],[35.2,4.5],[35.3,0.0],[35.45,4.45],[35.55,0.2],[35.65,-0.94],[35.75,0.5],[35.85,4.9],[35.95,1.0],[36.05,4.8],[36.15,0.2],[36.3,4.4],[36.4,0.0],[36.5,0.5],[36.7,0.0],[36.9,0.4],[37.1,0.0],[37.3,0.3],[37.5,0.0],[37.7,0.5],[37.8,4.9],[37.95,0.2],[38.1,4.85],[38.2,0.0],[38.37,4.3],[38.5,0.0],[38.8,0.05],[39.2,0.0],[39.5,0.1],[39.6,1.2],[39.7,0.0],[39.84,3.4],[39.95,0.3],[40.05,1.5],[40.15,0.2],[40.3,1.45],[40.45,0.0],[42.3,0.0],[42.35,-0.8],[42.4,0.0],[44.3,0.0],[44.35,-3.25],[44.45,0.0],[45.3,0.0],[45.5,-0.3],[45.9,-0.9],[46.0,-0.35],[46.4,-0.45],[46.8,-0.3],[47.2,-0.4],[47.4,-1.1],[47.5,-0.35],[47.9,-0.3],[48.3,-0.2],[48.7,-0.3],[49.1,-0.15],[49.5,-0.25],[49.9,-0.2],[50.3,-0.3],[50.7,-0.2],[50.9,-1.5],[51.1,-0.25],[51.5,-0.15],[51.9,-0.25],[52.3,-0.2],[52.7,-0.3],[53.1,-0.2],[53.5,-0.25],[53.9,-0.15],[54.2,-0.3],[54.4,-2.3],[54.55,-0.3],[54.9,-0.2],[55.2,-0.3],[55.35,-5.1],[55.5,0.0],[57.4,0.0],
[57.55,1.0],[57.65,3.9],[57.75,0.3],[57.85,3.0],[57.95,0.0],[58.05,3.6],[58.15,0.5],[58.25,4.0],[58.35,-0.2],[58.45,4.2],[58.55,1.0],[58.65,4.5],[58.75,0.0],[58.85,4.3],[58.95,0.5],[59.05,4.6],[59.15,-0.3],[59.25,4.5],[59.35,0.8],[59.45,4.7],[59.55,0.0],[59.65,4.8],[59.75,1.5],[59.85,5.0],[59.95,0.2],[60.05,4.9],[60.15,-0.2],[60.25,5.1],[60.35,1.0],[60.45,5.2],[60.55,0.3],[60.65,5.44],[60.75,-0.3],[60.85,4.3],[61.0,4.3],[61.15,4.2],[61.3,4.2],[61.45,4.0],[61.6,4.4],[61.65,0.2],[61.75,4.3],[61.85,4.2],[61.95,0.3],[62.05,4.1],[62.2,4.0],[62.35,3.9],[62.5,3.9],[62.65,3.7],[62.8,3.8],[62.9,0.4],[63.1,0.6],[63.3,0.4],[63.5,0.5],[63.7,0.7],[63.9,0.4],[64.1,2.8],[64.25,2.0],[64.4,1.0],[64.6,1.1],[64.8,0.6],[65.0,1.1],[65.15,1.06],[65.3,0.4],[65.6,0.6],[65.8,0.4],[66.05,0.0],
[66.5,-0.05],[67.0,0.0],[67.5,-0.05],[68.0,0.0],[68.1,-0.2],[68.2,0.0],[69.0,-0.05],[70.0,0.0],[71.0,-0.05],[71.9,0.0],[72.05,-0.6],[72.15,0.0],[73.0,0.0],[73.2,-0.25],[73.5,-0.35],[73.9,-0.3],[74.3,-0.4],[74.7,-0.3],[75.1,-0.35],[75.5,-0.25],[75.9,-0.4],[76.3,-0.3],[76.7,-0.45],[77.1,-0.3],[77.5,-0.4],[77.9,-0.3],[78.3,-0.35],[78.7,-1.4],[78.85,-0.3],[79.2,-0.2],[79.5,-0.15],[79.7,0.0],
[81.0,0.0],[81.05,-0.9],[81.1,0.0],[81.9,0.0],[81.95,1.0],[82.0,0.0],[82.7,0.0],[82.75,0.6],[82.8,-0.3],[83.0,0.5],[83.1,-0.5],[83.4,0.3],[83.65,0.6],[83.7,-0.8],[84.05,-1.5],[84.15,0.2],[84.4,-2.0],[84.5,0.0],[84.7,-0.6],[84.8,0.3],[85.0,0.0],[85.3,0.2],[85.5,0.0],[88.0,0.0],
[88.1,-0.1],[88.14,-2.2],[88.2,-0.5],[88.27,-3.8],[88.35,-0.6],[88.5,-1.0],[88.6,-0.5],[88.7,-1.5],[88.8,-0.6],[88.9,-3.8],[89.0,-0.7],[89.1,-1.5],[89.3,-0.8],[89.45,-1.2],[89.6,-0.6],[89.74,-4.86],[89.85,-1.0],[89.95,-2.5],[90.05,-0.9],[90.16,-3.2],[90.3,-0.8],[90.45,-0.6],[90.6,-1.0],[90.8,-0.5],[91.0,-0.9],[91.2,-0.5],[91.4,-1.2],[91.6,-0.6],[91.75,-2.7],[91.9,-0.6],[92.1,-0.9],[92.34,-2.8],[92.5,-0.8],[92.65,-1.5],[92.76,-4.8],[92.9,-0.7],[93.1,-1.3],[93.3,-0.6],[93.5,-1.0],[93.64,-4.5],[93.8,-0.6],[94.0,-3.6],[94.15,-0.5],[94.35,-0.8],[94.55,-0.3],[94.77,-0.5],[95.0,-0.2],[95.2,-0.4],[95.35,-0.6],[95.48,-2.2],[95.6,-0.4],[95.8,-0.5],[95.94,-3.0],[96.05,-0.5],[96.24,-1.9],[96.4,-0.35],[96.6,-0.5],[96.87,-1.6],[97.0,-0.35],[97.3,-0.6],[97.5,-0.4],[97.7,-2.8],[97.85,-0.4],[98.1,-0.3],[98.4,-0.25],[98.7,-0.35],[99.0,-0.2],[99.4,-0.3],[99.8,-0.2],[100.2,-0.25],[100.6,-0.15],[101.0,-0.2],[101.4,-0.15],[101.9,-0.1],[102.1,-0.5],[102.3,-2.7],[102.45,-0.5],
[102.6,-0.4],[102.8,-0.6],[102.94,-2.0],[103.1,-0.5],[103.3,-0.7],[103.57,-2.1],[103.7,-0.4],[103.9,-0.8],[104.1,-1.2],[104.3,-0.6],[104.49,-3.0],[104.6,-1.4],[104.74,-4.7],[104.85,-1.0],[105.03,-0.8],[105.2,-0.5],[105.45,-0.2],[105.7,-0.1],[106.0,-0.15],[106.4,-0.05],[106.8,-0.1],[107.2,0.0],[107.6,-0.1],[108.0,-0.05],[108.4,-0.15],[108.8,-0.05],[109.1,-0.2],[109.23,-0.7],[109.35,-0.15],[109.7,-0.05],[110.1,-0.1],[110.5,-0.05],[110.9,-0.15],[111.11,-0.3],[111.3,-0.1],[111.6,-0.2],[111.87,-1.8],[112.0,-0.5],[112.3,-0.4],[112.55,-0.6],[112.71,-2.45],[112.85,-0.5],[113.1,-0.4],[113.4,-0.6],[113.65,-0.45],[113.84,-2.45],[113.95,-0.6],[114.05,-1.1],[114.2,-0.5],[114.5,-0.4],[114.8,-0.55],[115.1,-0.4],[115.4,-0.5],[115.7,-0.35],[115.9,-0.5],[116.06,-5.7],[116.2,-0.6],[116.35,-4.8],[116.45,-0.5],[116.56,-6.0],[116.7,-0.5],[117.0,-0.4],[117.3,-0.55],[117.6,-0.35],[117.9,-0.5],[118.2,-0.3],[118.5,-0.45],[118.79,-3.05],[118.95,-0.4],[119.3,-0.3],[119.6,-0.5],[119.9,-0.35],[120.2,-0.4],[120.42,-1.9],[120.6,-0.3],[120.9,-0.4],[121.2,-0.2],[121.5,-0.3],[121.89,-3.3],[122.05,-0.3],[122.4,-0.2],[122.8,-0.25],[123.2,-0.15],[123.6,-0.25],[124.0,-0.15],[124.4,-0.2],[124.8,-0.1],[125.2,-0.2],[125.6,-0.15],[126.0,-0.2],[126.4,-0.1],[126.8,-0.2],[127.2,-0.15],[127.6,-0.25],[128.0,-0.2],[128.3,-0.5],[128.51,-3.4],[128.65,-0.3],[128.9,-0.15],[129.3,-0.05],[129.7,0.0],[130.1,0.05],[130.5,0.0],[130.9,0.05],[131.3,0.0],[131.7,0.05],[132.1,0.1],[132.5,0.05],[132.9,0.1],[133.3,0.05],[133.5,0.1],[133.67,-1.3],[133.8,0.05],[134.1,0.1],[134.5,0.15],[134.72,0.2],[134.9,0.1],[135.1,0.0],[135.35,-0.7],[135.5,-0.3],[135.8,-0.45],[136.1,-0.3],[136.3,-0.6],[136.48,-1.6],[136.6,-0.5],[136.9,-0.7],[137.2,-0.5],[137.5,-0.9],[137.82,-3.4],[137.95,-0.8],[138.2,-0.6],[138.5,-1.0],[138.8,-0.7],[139.0,-1.2],[139.2,-4.7],[139.35,-1.1],[139.6,-0.8],[139.8,-1.3],[139.96,-2.6],[140.13,-2.6],[140.3,-1.0],[140.6,-0.8],[140.88,-2.7],[141.0,-1.5],[141.09,-2.85],[141.25,-0.6],[141.5,-0.4],[141.72,-0.2],[142.0,-0.3],[142.4,-0.25],[142.8,-0.3],[143.2,-0.2],[143.5,-0.25]
];

const FONT = '"DejaVu Sans", Verdana, sans-serif';
function makePanel(series, height, marginTop, marginBottom) {
  const fmtDay = d => dayLabels[dayTicks.indexOf(d)];
  const fmtY = d => yLabels[yTicks.indexOf(d)];
  return Plot.plot({
    width: 1204, height, marginLeft: 63, marginRight: 0, marginTop, marginBottom,
    style: {fontFamily: FONT, fontSize: "18px", color: "#262626", background: "transparent"},
    x: {domain: [0, 143.5]},
    y: {domain: [-6, 6]},
    marks: [
      ...series.map(s => Plot.line(s.data, {x: d => d[0], y: d => d[1], stroke: s.color, strokeWidth: 1.2, clip: true})),
      Plot.frame({stroke: "#262626", strokeWidth: 1}),
      Plot.axisX({ticks: dayTicks, anchor: "bottom", tickSize: -8, tickPadding: 23, tickFormat: fmtDay, label: null, fontSize: 18}),
      Plot.axisX({ticks: dayTicks, anchor: "top", tickSize: -8, tickFormat: () => "", label: null}),
      Plot.axisY({ticks: yTicks, anchor: "left", tickSize: -8, tickPadding: 18, tickFormat: fmtY, label: null, fontSize: 18}),
      Plot.axisY({ticks: yTicks, anchor: "right", tickSize: -8, tickFormat: () => "", label: null}),
      Plot.text(["Leistung in kW"], {frameAnchor: "left", rotate: -90, dx: -44, fontSize: 18, fill: "#262626"})
    ]
  });
}

const wrap = document.getElementById("wrap");
const topPlot = makePanel([
  {data: diffPower, color: colGray},
  {data: battery1, color: colOrange},
  {data: battery2, color: colYellow},
  {data: battery3, color: colGreen}
], 555, 18, 34);
topPlot.classList.add("panel"); topPlot.style.top = "0px";
wrap.appendChild(topPlot);

const botPlot = makePanel([
  {data: grid1, color: colOrange},
  {data: grid2, color: colYellow},
  {data: grid3, color: colGreen}
], 549, 14, 32);
botPlot.classList.add("panel"); botPlot.style.top = "555px";
wrap.appendChild(botPlot);

function legend(names, colors, left, top) {
  const div = document.createElement("div");
  div.className = "legend";
  div.style.left = left + "px"; div.style.top = top + "px";
  names.forEach((n, i) => {
    const row = document.createElement("div"); row.className = "row";
    const sw = document.createElement("span"); sw.className = "sw"; sw.style.borderTopColor = colors[i];
    const tx = document.createElement("span"); tx.textContent = n;
    row.appendChild(sw); row.appendChild(tx); div.appendChild(row);
  });
  wrap.appendChild(div);
}
legend(topNames, ["#d6d6d6", "#ffc070", "#ffd42a", "#7ab81e"], 866, 38);
legend(bottomNames, ["#ffc070", "#ffd42a", "#7ab81e"], 899, 589);
</script></body></html>
